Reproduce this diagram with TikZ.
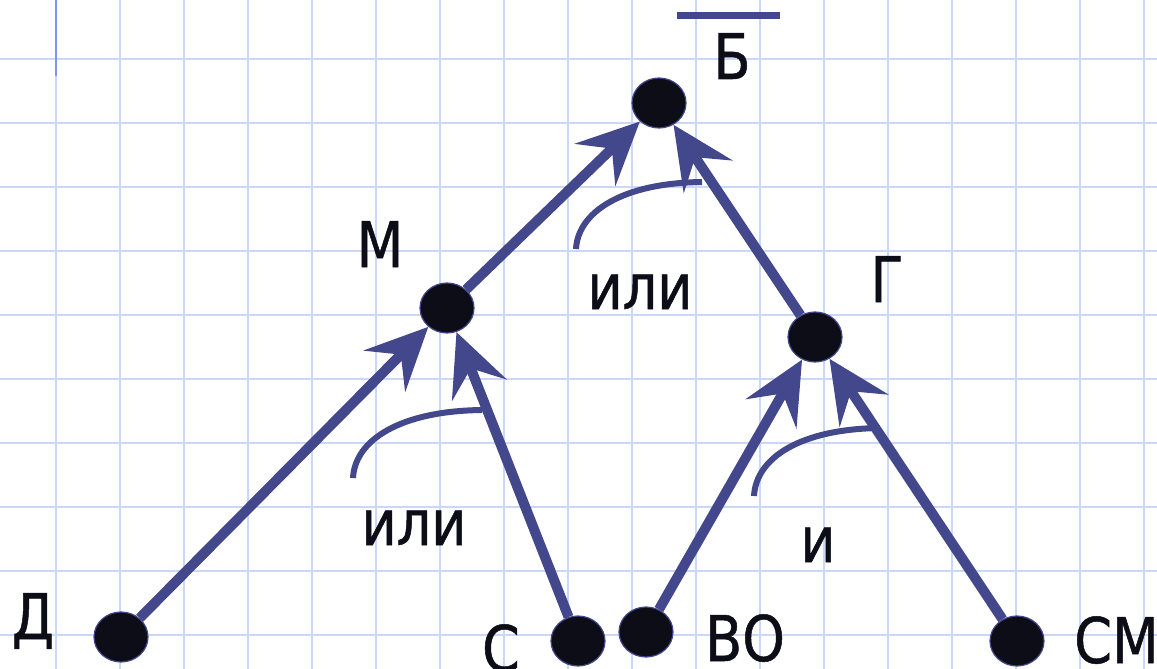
\documentclass[tikz,border=0pt]{standalone}
\usepackage{fontspec}
\setmainfont[FakeStretch=0.86,FakeBold=0.8]{DejaVu Sans}
\usetikzlibrary{arrows.meta,shapes.geometric}
\definecolor{gridblue}{HTML}{C9D7F8}
\definecolor{markblue}{HTML}{7F95F2}
\definecolor{edgeblue}{HTML}{43478B}
\definecolor{dotfill}{HTML}{0D0D18}
\definecolor{ink}{HTML}{0D0D18}
\tikzset{
  dot/.style={ellipse, fill=dotfill, draw=edgeblue, line width=1.2pt,
    minimum width=54pt, minimum height=50pt, inner sep=0pt},
  lbl/.style={font=\fontsize{63}{70}\selectfont, text=ink, inner sep=0pt, anchor=base},
  edge/.style={draw=edgeblue, line width=10pt,
    -{Stealth[length=62pt,width=58pt,inset=23pt]}},
  joint/.style={draw=edgeblue, line width=6pt},
}
\begin{document}
\begin{tikzpicture}[x=1pt,y=-1pt]
  \useasboundingbox (0,0) rectangle (1157,669);
  % squared paper
  \foreach \k in {-1,...,17}
    \draw[gridblue, line width=2pt] (55.7+64*\k,0) -- (55.7+64*\k,669);
  \foreach \k in {0,...,9}
    \draw[gridblue, line width=2pt] (0,59+64*\k) -- (1157,59+64*\k);
  \draw[markblue, line width=2pt] (55.7,0) -- (55.7,76);

  % vertices
  \node[dot] (b)  at (659,103) {};
  \node[dot] (m)  at (447,308) {};
  \node[dot] (g)  at (815,337) {};
  \node[dot] (d)  at (121,637) {};
  \node[dot] (s)  at (578,641) {};
  \node[dot] (vo) at (646,632) {};
  \node[dot] (sm) at (1017,641) {};

  % arcs joining the incoming branches
  \draw[joint] (353,478) .. controls (355,440) and (400,411) .. (482,410);
  \draw[joint] (576,249) .. controls (578,212) and (622,183) .. (702,182);
  \draw[joint] (754,496) .. controls (756,458) and (800,429) .. (880,428);

  % branches
  \draw[edge] (d)  -- (m);
  \draw[edge] (s)  -- (m);
  \draw[edge] (vo) -- (g);
  \draw[edge] (sm) -- (g);
  \draw[edge] (m)  -- (b);
  \draw[edge] (g)  -- (b);

  % labels
  \node[lbl] (lb) at (732,79) {Б};
  \draw[edgeblue, line width=7pt] (677,15.5) -- (780,15.5);
  \node[lbl] (lm) at (380,267) {М};
  \node[lbl] (lg) at (887,302) {Г};
  \node[lbl] (or1) at (640,309) {или};
  \node[lbl] (or2) at (414,545) {или};
  \node[lbl] (and) at (818,562) {и};
  \node[lbl] (ld) at (33,639) {Д};
  \node[lbl] (ls) at (501,671) {С};
  \node[lbl] (lvo) at (745,661) {ВО};
  \node[lbl, anchor=base west] (lsm) at (1074,663) {СМ};
\end{tikzpicture}
\end{document}
